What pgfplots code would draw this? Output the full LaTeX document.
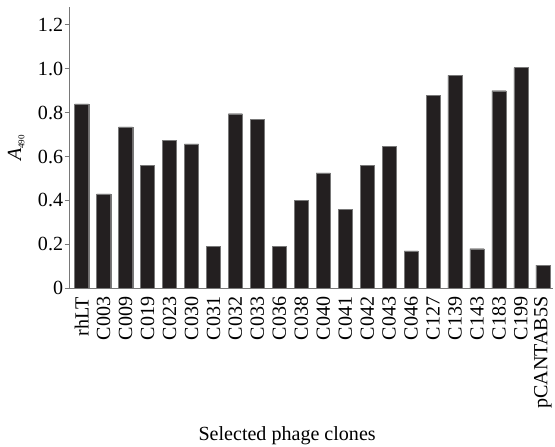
\documentclass[border=0pt]{standalone}
\usepackage{fontspec}
\setmainfont{Liberation Serif}
\usepackage{pgfplots}
\pgfplotsset{compat=1.18}
\definecolor{barfill}{RGB}{35,31,32}
\definecolor{axisgray}{RGB}{120,120,120}
\begin{document}
\begin{tikzpicture}
\begin{axis}[
    scale only axis,
    width=480bp,
    height=279bp,
    xmin=-0.55, xmax=21.46,
    ymin=0, ymax=1.28,
    axis x line=bottom,
    axis y line=left,
    axis line style={-, draw=axisgray, line width=0.8pt},
    ytick={0,0.2,0.4,0.6,0.8,1.0,1.2},
    yticklabels={0,0.2,0.4,0.6,0.8,1.0,1.2},
    xtick=data,
    xticklabels={rhLT,C003,C009,C019,C023,C030,C031,C032,C033,C036,C038,C040,C041,C042,C043,C046,C127,C139,C143,C183,C199,pCANTAB5S},
    xticklabel style={rotate=90, anchor=east, font=\fontsize{20}{24}\selectfont},
    yticklabel style={font=\fontsize{20}{24}\selectfont, xshift=2bp},
    /pgf/number format/assume math mode=true,
    xtick style={draw=none},
    ytick style={draw=axisgray, line width=0.8pt},
    tick align=outside,
    major tick length=5bp,
    ylabel={\textit{A}\textsubscript{\fontsize{9}{10}\selectfont 490}},
    ylabel style={font=\fontsize{20}{24}\selectfont, at={(ticklabel cs:0.5,10bp)},
        anchor=south, inner sep=0pt, text height=21bp},
    xlabel={Selected phage clones},
    xlabel style={font=\fontsize{20}{24}\selectfont, at={(axis description cs:0.45,0)},
        anchor=base, yshift=-151bp, inner xsep=0pt, inner ysep=1.5bp},
    every axis title shift=0pt,
    title={\mbox{}},
    title style={inner sep=0pt, text height=7bp, text depth=0pt},
]
\addplot[ybar, bar width=14bp, fill=barfill, draw=axisgray, line width=0.3pt] coordinates {
    (0,0.84) (1,0.43) (2,0.735) (3,0.56) (4,0.675) (5,0.657)
    (6,0.19) (7,0.795) (8,0.77) (9,0.19) (10,0.40) (11,0.525)
    (12,0.36) (13,0.56) (14,0.645) (15,0.17) (16,0.88) (17,0.97)
    (18,0.18) (19,0.90) (20,1.005) (21,0.105)
};
\end{axis}
\end{tikzpicture}
\end{document}
